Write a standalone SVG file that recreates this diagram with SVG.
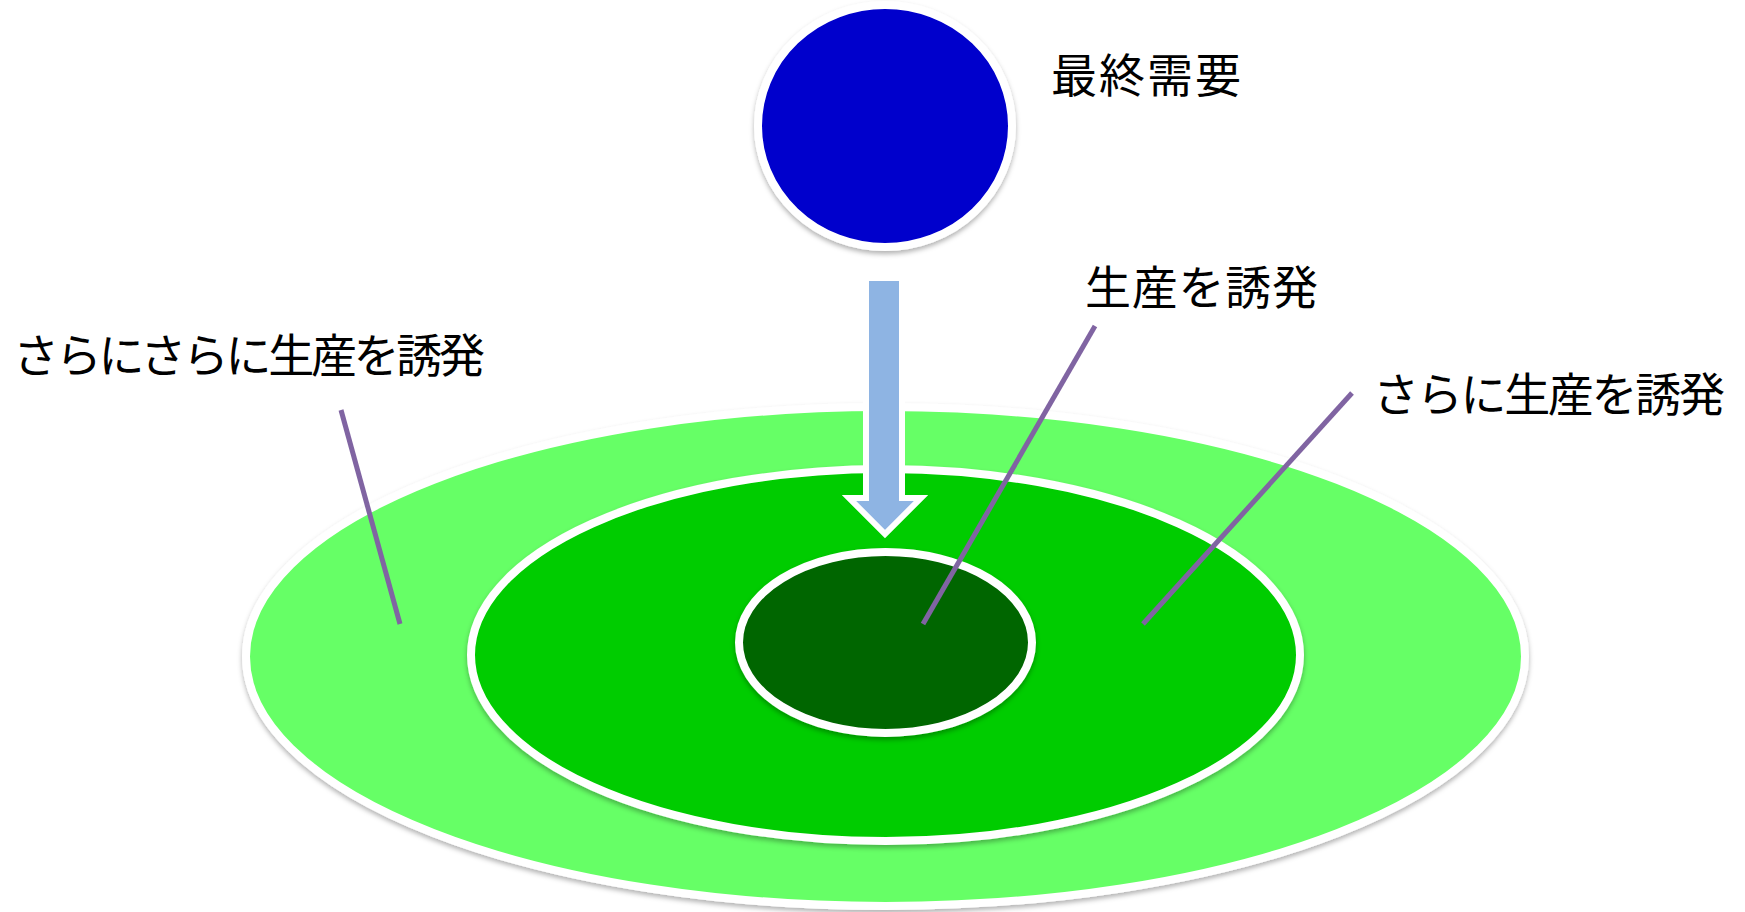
<svg xmlns="http://www.w3.org/2000/svg" width="1745" height="912" viewBox="0 0 1745 912">
  <defs>
    <filter id="sh" x="-10%" y="-10%" width="120%" height="130%">
      <feDropShadow dx="0" dy="3" stdDeviation="2.5" flood-color="#000" flood-opacity="0.3"/>
    </filter>
  </defs>
  <style>
    .ring { stroke: #FFFFFF; stroke-width: 8; filter: url(#sh); }
    .lbl { font-family: "Noto Sans CJK JP", "Noto Sans CJK SC", sans-serif; font-size: 46px; fill: #000000; }
    .lead { stroke: #8064A2; stroke-width: 5; fill: none; }
  </style>
  <rect width="1745" height="912" fill="#FFFFFF"/>

  <g id="outer-ring">
    <ellipse class="ring" cx="885.5" cy="656.5" rx="639.5" ry="249.5" fill="#66FF66"/>
  </g>
  <g id="middle-ring">
    <ellipse class="ring" cx="885.5" cy="655" rx="414.5" ry="186" fill="#00CC00"/>
  </g>
  <g id="inner-ring">
    <ellipse class="ring" cx="885.5" cy="642.5" rx="146.5" ry="90.5" fill="#006600"/>
  </g>
  <g id="final-demand">
    <ellipse class="ring" cx="885" cy="126" rx="127" ry="121" fill="#0000CC"/>
    <text class="lbl" x="1051" y="92" textLength="190" lengthAdjust="spacing">最終需要</text>
  </g>

  <g id="connectors">
    <path d="M866 278 L902 278 L902 498 L921 498 L885 534 L849 498 L866 498 Z" fill="#8EB4E3" stroke="#FFFFFF" stroke-width="6" stroke-linejoin="miter"/>
    <line class="lead" x1="341" y1="410" x2="400" y2="624"/>
    <line class="lead" x1="1095" y1="326" x2="923" y2="624"/>
    <line class="lead" x1="1352" y1="393" x2="1143" y2="624"/>
  </g>

  <g id="label-direct">
    <text class="lbl" x="1085" y="304" textLength="233" lengthAdjust="spacing">生産を誘発</text>
  </g>
  <g id="label-further">
    <text class="lbl" x="1373" y="411" textLength="352" lengthAdjust="spacing">さらに生産を誘発</text>
  </g>
  <g id="label-further-further">
    <text class="lbl" x="13" y="372" textLength="472" lengthAdjust="spacing">さらにさらに生産を誘発</text>
  </g>
</svg>
